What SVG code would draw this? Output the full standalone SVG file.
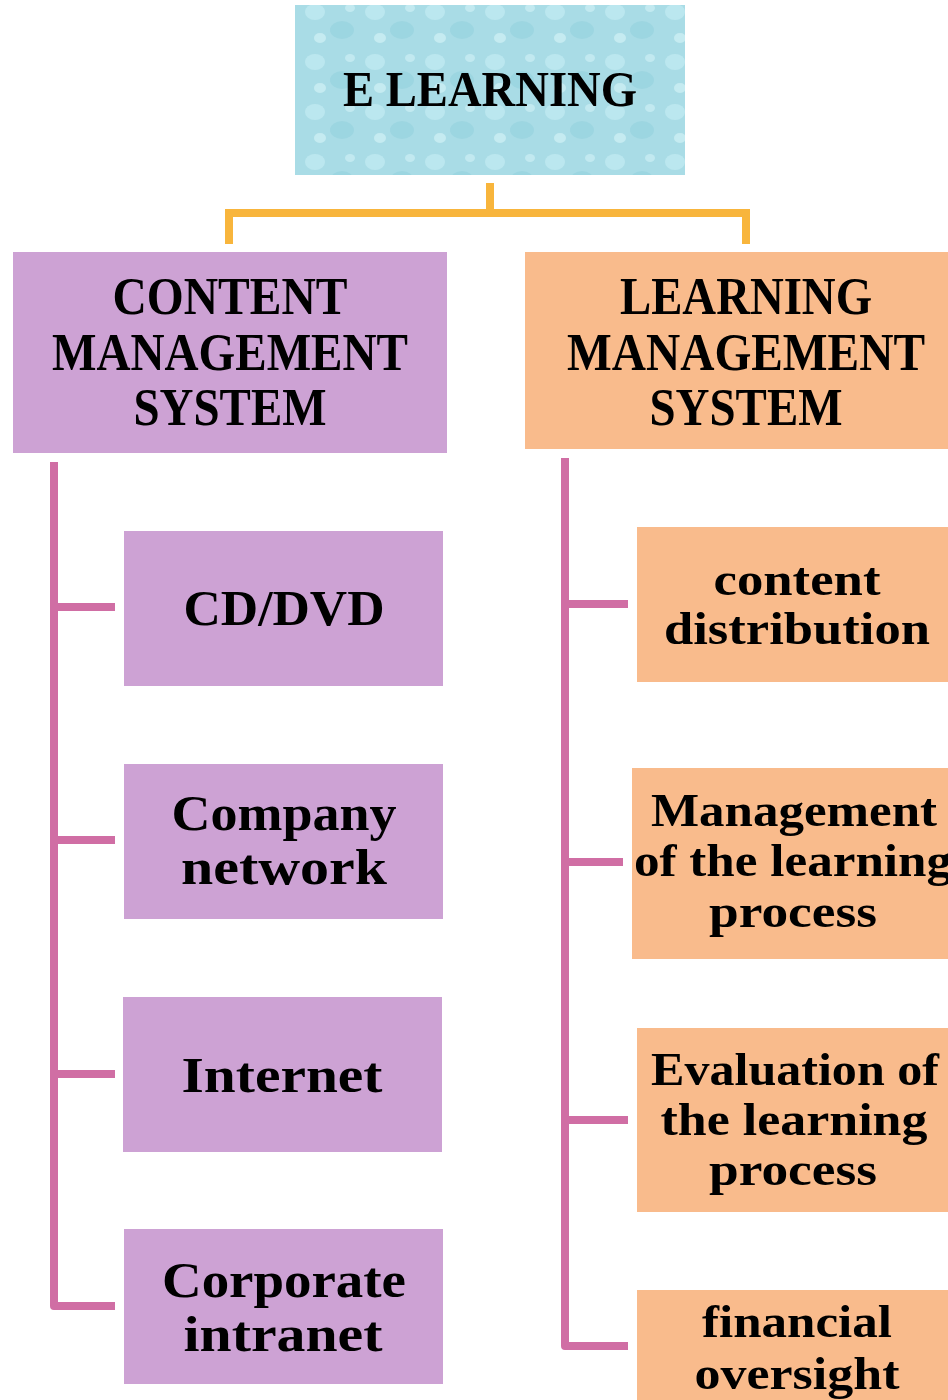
<svg xmlns="http://www.w3.org/2000/svg" width="948" height="1400" viewBox="0 0 948 1400">
<style>
.t{font-family:"Liberation Serif","Times New Roman",serif;font-weight:bold;fill:#000;text-anchor:middle}
.big{font-size:52px}
.mid{font-size:51px}
.sm{font-size:47px}
.cms{fill:#cda2d4}
.lms{fill:#f9bb8c}
.pk{stroke:#d06ea4;stroke-width:8;fill:none;stroke-linejoin:round}
.or{stroke:#f8b53c;stroke-width:8;fill:none;stroke-linecap:square}
</style>
<defs>
<pattern id="drops" width="60" height="50" patternUnits="userSpaceOnUse">
<rect width="60" height="50" fill="#a9dce6"/>
<ellipse cx="15" cy="12" rx="10" ry="8" fill="#c4ecf3" opacity="0.7"/>
<ellipse cx="42" cy="30" rx="12" ry="9" fill="#8fcfdc" opacity="0.5"/>
<ellipse cx="20" cy="38" rx="6" ry="5" fill="#d2f1f6" opacity="0.7"/>
<ellipse cx="50" cy="8" rx="5" ry="4" fill="#d2f1f6" opacity="0.6"/>
</pattern>
</defs>
<g id="connectors">
<path class="or" d="M490 187 V213 M229 240 V213 H746 V240"/>
<path class="pk" d="M54 462 V1306 H115 M54 607 H115 M54 840 H115 M54 1074 H115"/>
<path class="pk" d="M565 458 V1346 H628 M565 604 H628 M565 862 H623 M565 1120 H628"/>
</g>
<g id="elearning">
<rect x="295" y="5" width="390" height="170" fill="url(#drops)"/>
<text class="t" x="490" y="106" font-size="50" textLength="294" lengthAdjust="spacingAndGlyphs">E LEARNING</text>
</g>
<g id="cms">
<rect class="cms" x="13" y="252" width="434" height="201"/>
<text class="t big" x="230" y="314" textLength="235" lengthAdjust="spacingAndGlyphs">CONTENT</text>
<text class="t big" x="230" y="370" textLength="356" lengthAdjust="spacingAndGlyphs">MANAGEMENT</text>
<text class="t big" x="230" y="425" textLength="193" lengthAdjust="spacingAndGlyphs">SYSTEM</text>
</g>
<g id="lms">
<rect class="lms" x="525" y="252" width="423" height="197"/>
<text class="t big" x="746" y="314" textLength="252" lengthAdjust="spacingAndGlyphs">LEARNING</text>
<text class="t big" x="746" y="370" textLength="358" lengthAdjust="spacingAndGlyphs">MANAGEMENT</text>
<text class="t big" x="746" y="425" textLength="193" lengthAdjust="spacingAndGlyphs">SYSTEM</text>
</g>
<g id="cddvd">
<rect class="cms" x="124" y="531" width="319" height="155"/>
<text class="t mid" x="284" y="625" textLength="201" lengthAdjust="spacingAndGlyphs">CD/DVD</text>
</g>
<g id="company">
<rect class="cms" x="124" y="764" width="319" height="155"/>
<text class="t mid" x="284" y="830" textLength="225" lengthAdjust="spacingAndGlyphs">Company</text>
<text class="t mid" x="284" y="884" textLength="206" lengthAdjust="spacingAndGlyphs">network</text>
</g>
<g id="internet">
<rect class="cms" x="123" y="997" width="319" height="155"/>
<text class="t mid" x="282" y="1092" textLength="201" lengthAdjust="spacingAndGlyphs">Internet</text>
</g>
<g id="intranet">
<rect class="cms" x="124" y="1229" width="319" height="155"/>
<text class="t mid" x="284" y="1297" textLength="244" lengthAdjust="spacingAndGlyphs">Corporate</text>
<text class="t mid" x="283" y="1351" textLength="199" lengthAdjust="spacingAndGlyphs">intranet</text>
</g>
<g id="distribution">
<rect class="lms" x="637" y="527" width="311" height="155"/>
<text class="t sm" x="797" y="595" textLength="167" lengthAdjust="spacingAndGlyphs">content</text>
<text class="t sm" x="797" y="644" textLength="266" lengthAdjust="spacingAndGlyphs">distribution</text>
</g>
<g id="management">
<rect class="lms" x="632" y="768" width="316" height="191"/>
<text class="t sm" x="794" y="826" textLength="286" lengthAdjust="spacingAndGlyphs">Management</text>
<text class="t sm" x="793" y="876" textLength="318" lengthAdjust="spacingAndGlyphs">of the learning</text>
<text class="t sm" x="793" y="927" textLength="168" lengthAdjust="spacingAndGlyphs">process</text>
</g>
<g id="evaluation">
<rect class="lms" x="637" y="1028" width="311" height="184"/>
<text class="t sm" x="795" y="1085" textLength="288" lengthAdjust="spacingAndGlyphs">Evaluation of</text>
<text class="t sm" x="794" y="1135" textLength="267" lengthAdjust="spacingAndGlyphs">the learning</text>
<text class="t sm" x="793" y="1185" textLength="168" lengthAdjust="spacingAndGlyphs">process</text>
</g>
<g id="financial">
<rect class="lms" x="637" y="1290" width="311" height="110"/>
<text class="t sm" x="797" y="1337" textLength="190" lengthAdjust="spacingAndGlyphs">financial</text>
<text class="t sm" x="797" y="1389" textLength="205" lengthAdjust="spacingAndGlyphs">oversight</text>
</g>
</svg>
